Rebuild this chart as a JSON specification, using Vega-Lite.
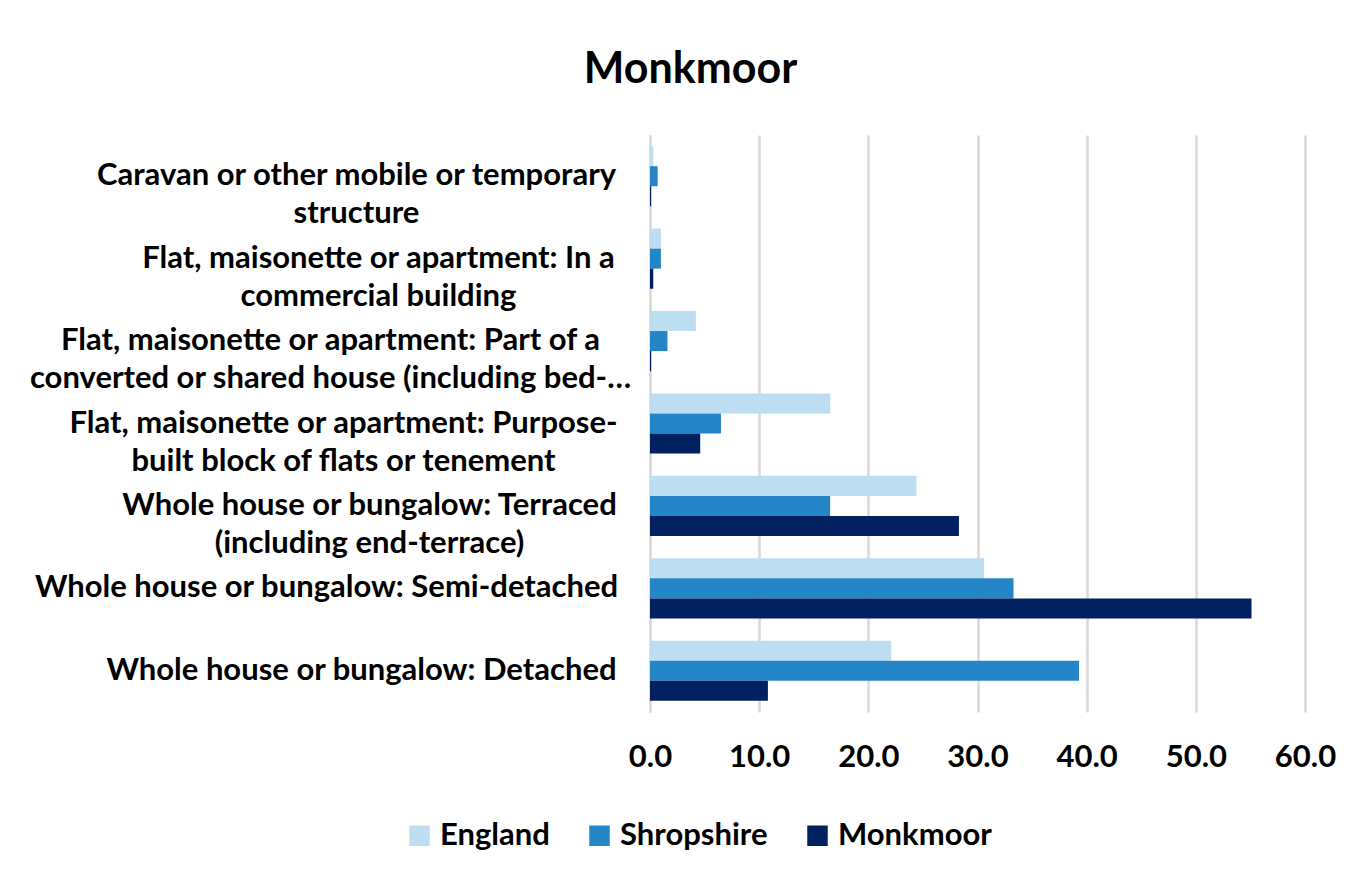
{
  "$schema": "https://vega.github.io/schema/vega-lite/v6.json",
  "width": 655,
  "height": 577,
  "autosize": {"type": "none"},
  "padding": {"left": 650, "top": 135, "right": 54, "bottom": 157},
  "background": "white",
  "title": {
    "text": "Monkmoor",
    "font": "Lato",
    "fontSize": 43,
    "fontWeight": "bold",
    "color": "#000000",
    "anchor": "middle",
    "frame": "group",
    "dx": -287,
    "offset": 43
  },
  "data": {
    "values": [
      {"type": "Caravan or other mobile or temporary|structure", "area": "England", "value": 0.3},
      {"type": "Caravan or other mobile or temporary|structure", "area": "Shropshire", "value": 0.7},
      {"type": "Caravan or other mobile or temporary|structure", "area": "Monkmoor", "value": 0.1},
      {"type": "Flat, maisonette or apartment: In a|commercial building", "area": "England", "value": 1.0},
      {"type": "Flat, maisonette or apartment: In a|commercial building", "area": "Shropshire", "value": 1.0},
      {"type": "Flat, maisonette or apartment: In a|commercial building", "area": "Monkmoor", "value": 0.3},
      {"type": "Flat, maisonette or apartment: Part of a|converted or shared house (including bed-…", "area": "England", "value": 4.2},
      {"type": "Flat, maisonette or apartment: Part of a|converted or shared house (including bed-…", "area": "Shropshire", "value": 1.6},
      {"type": "Flat, maisonette or apartment: Part of a|converted or shared house (including bed-…", "area": "Monkmoor", "value": 0.1},
      {"type": "Flat, maisonette or apartment: Purpose-|built block of flats or tenement", "area": "England", "value": 16.5},
      {"type": "Flat, maisonette or apartment: Purpose-|built block of flats or tenement", "area": "Shropshire", "value": 6.5},
      {"type": "Flat, maisonette or apartment: Purpose-|built block of flats or tenement", "area": "Monkmoor", "value": 4.6},
      {"type": "Whole house or bungalow: Terraced|(including end-terrace)", "area": "England", "value": 24.4},
      {"type": "Whole house or bungalow: Terraced|(including end-terrace)", "area": "Shropshire", "value": 16.5},
      {"type": "Whole house or bungalow: Terraced|(including end-terrace)", "area": "Monkmoor", "value": 28.3},
      {"type": "Whole house or bungalow: Semi-detached", "area": "England", "value": 30.6},
      {"type": "Whole house or bungalow: Semi-detached", "area": "Shropshire", "value": 33.3},
      {"type": "Whole house or bungalow: Semi-detached", "area": "Monkmoor", "value": 55.1},
      {"type": "Whole house or bungalow: Detached", "area": "England", "value": 22.1},
      {"type": "Whole house or bungalow: Detached", "area": "Shropshire", "value": 39.3},
      {"type": "Whole house or bungalow: Detached", "area": "Monkmoor", "value": 10.8}
    ]
  },
  "mark": {"type": "bar"},
  "encoding": {
    "y": {
      "field": "type",
      "type": "nominal",
      "sort": null,
      "scale": {"paddingInner": 0.27, "paddingOuter": 0.135},
      "axis": {
        "title": null,
        "labelExpr": "split(datum.value, '|')",
        "labelFont": "Lato",
        "labelFontSize": 31,
        "labelFontWeight": "bold",
        "labelColor": "#000000",
        "labelAlign": "center",
        "labelLineHeight": 38,
        "labelLimit": 800,
        "labelPadding": {
          "condition": [
            {"test": "indexof(datum.value,'Caravan')==0", "value": 294},
            {"test": "indexof(datum.value,'In a|')>0", "value": 272},
            {"test": "indexof(datum.value,'Part of a')>0", "value": 320},
            {"test": "indexof(datum.value,'Purpose')>0", "value": 307},
            {"test": "indexof(datum.value,'Terraced')>0", "value": 281},
            {"test": "indexof(datum.value,'Semi')>0", "value": 324}
          ],
          "value": 289
        },
        "ticks": false,
        "domainColor": "#d9d9d9",
        "domainWidth": 2,
        "grid": false
      }
    },
    "yOffset": {
      "field": "area",
      "type": "nominal",
      "sort": ["England", "Shropshire", "Monkmoor"],
      "scale": {"paddingInner": 0, "paddingOuter": 0}
    },
    "x": {
      "field": "value",
      "type": "quantitative",
      "scale": {"domain": [0, 60], "nice": false},
      "axis": {
        "title": null,
        "values": [0, 10, 20, 30, 40, 50, 60],
        "format": ".1f",
        "labelFont": "Lato",
        "labelFontSize": 31,
        "labelFontWeight": "bold",
        "labelColor": "#000000",
        "labelPadding": 30,
        "labelFlush": false,
        "domain": false,
        "ticks": false,
        "grid": true,
        "gridColor": "#d9d9d9",
        "gridWidth": 2.5
      }
    },
    "color": {
      "field": "area",
      "type": "nominal",
      "sort": ["England", "Shropshire", "Monkmoor"],
      "scale": {
        "domain": ["England", "Shropshire", "Monkmoor"],
        "range": ["#bdddf1", "#2486c7", "#002060"]
      },
      "legend": {
        "title": null,
        "orient": "none",
        "direction": "horizontal",
        "legendX": -246,
        "legendY": 685,
        "symbolType": "square",
        "symbolSize": 420,
        "symbolStrokeWidth": 0,
        "labelFont": "Lato",
        "labelFontSize": 31,
        "labelFontWeight": "bold",
        "labelColor": "#000000",
        "labelOffset": 5,
        "columnPadding": 34,
        "labelLimit": 300
      }
    }
  },
  "config": {
    "view": {"stroke": null}
  }
}
